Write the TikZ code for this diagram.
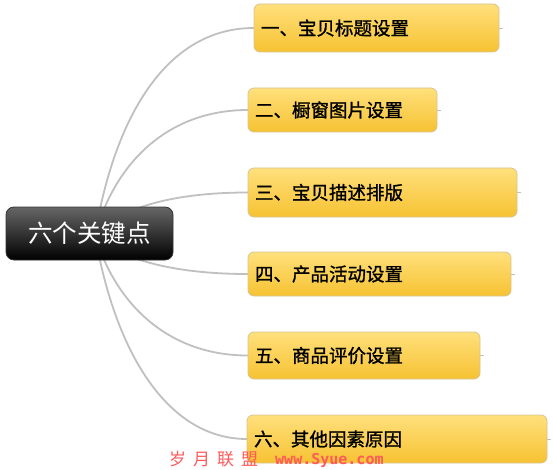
\documentclass[tikz,border=0pt]{standalone}
\usepackage{fontspec}
\newfontfamily\cjk{Noto Sans CJK SC}
\newfontfamily\cjkb{Noto Sans CJK SC}[FakeBold=1.2]
\newfontfamily\latn{DejaVu Sans Mono}
\definecolor{conn}{HTML}{C0C0C0}
\definecolor{boxtop}{HTML}{FFE07C}
\definecolor{boxmid}{HTML}{F9CB3E}
\definecolor{boxbot}{HTML}{F6C232}
\definecolor{boxline}{HTML}{D7C495}
\definecolor{wm}{HTML}{FF5A5A}
\begin{document}
\begin{tikzpicture}[x=1pt,y=-1pt,
  leaf/.style={draw=boxline, line width=0.8pt, rounded corners=6pt,
    top color=boxtop, middle color=boxmid, bottom color=boxbot,
    inner xsep=7pt, inner ysep=0pt, align=left,
    font=\cjkb\fontsize{18.5}{20}\selectfont, text=black},
  rootbox/.style={draw=black!80, line width=0.8pt, rounded corners=8pt,
    top color=black!60, middle color=black, bottom color=black,
    minimum width=167pt, minimum height=53pt, inner sep=0pt,
    font=\cjk\fontsize{24.5}{26}\selectfont, text=white},
  curve/.style={draw=conn, line width=1.8pt},
  ext/.style={draw=conn, line width=0.7pt},
  wmtext/.style={text=wm, inner sep=0pt}]
\useasboundingbox (0,0) rectangle (553,470);
\fill[white] (0,0) rectangle (553,470);

\coordinate (s) at (95,235);
% leaf positions (centres)
\coordinate (p1) at (376.5,28);
\coordinate (p2) at (342.5,110);
\coordinate (p3) at (382.5,192.5);
\coordinate (p4) at (379.5,274);
\coordinate (p5) at (364,355.5);
\coordinate (p6) at (397,439);

% invisible placeholders so connectors can be drawn beneath the boxes
\path (p1) node[minimum width=245pt, minimum height=48pt, inner sep=0pt] (b1) {};
\path (p2) node[minimum width=189pt, minimum height=44pt, inner sep=0pt] (b2) {};
\path (p3) node[minimum width=269pt, minimum height=49pt, inner sep=0pt] (b3) {};
\path (p4) node[minimum width=263pt, minimum height=44pt, inner sep=0pt] (b4) {};
\path (p5) node[minimum width=232pt, minimum height=47pt, inner sep=0pt] (b5) {};
\path (p6) node[minimum width=300pt, minimum height=48pt, inner sep=0pt] (b6) {};

\draw[curve] (s) .. controls (116,110) and (170,28) .. (b1.west);
\draw[curve] (s) .. controls (116,160) and (170,110) .. (b2.west);
\draw[curve] (s) .. controls (118,209) and (170,192.5) .. (b3.west);
\draw[curve] (s) .. controls (118,258) and (170,274) .. (b4.west);
\draw[curve] (s) .. controls (116,306) and (170,355.5) .. (b5.west);
\draw[curve] (s) .. controls (116,357) and (170,439) .. (b6.west);
\foreach \b in {b1,b2,b3,b4,b5,b6}
  \draw[ext] (\b.west) -- ([xshift=4pt]\b.east);

\node[rootbox] (root) at (89.5,233.5) {六个关键点};

\node[leaf, minimum width=245pt, minimum height=48pt, text width=231pt] (l1) at (p1) {一、宝贝标题设置};
\node[leaf, minimum width=189pt, minimum height=44pt, text width=175pt] (l2) at (p2) {二、橱窗图片设置};
\node[leaf, minimum width=269pt, minimum height=49pt, text width=255pt] (l3) at (p3) {三、宝贝描述排版};
\node[leaf, minimum width=263pt, minimum height=44pt, text width=249pt] (l4) at (p4) {四、产品活动设置};
\node[leaf, minimum width=232pt, minimum height=47pt, text width=218pt] (l5) at (p5) {五、商品评价设置};
\node[leaf, minimum width=300pt, minimum height=48pt, text width=286pt] (l6) at (p6) {六、其他因素原因};

\node[wmtext, anchor=west, font=\cjk\fontsize{17}{18}\selectfont] (wm1) at (169,459.5) {岁\hspace{7pt}月\hspace{7pt}联\hspace{7pt}盟};
\node[wmtext, anchor=west, font=\latn\bfseries\fontsize{15}{16}\selectfont] (wm2) at (275,460) {www.Syue.com};
\end{tikzpicture}
\end{document}
